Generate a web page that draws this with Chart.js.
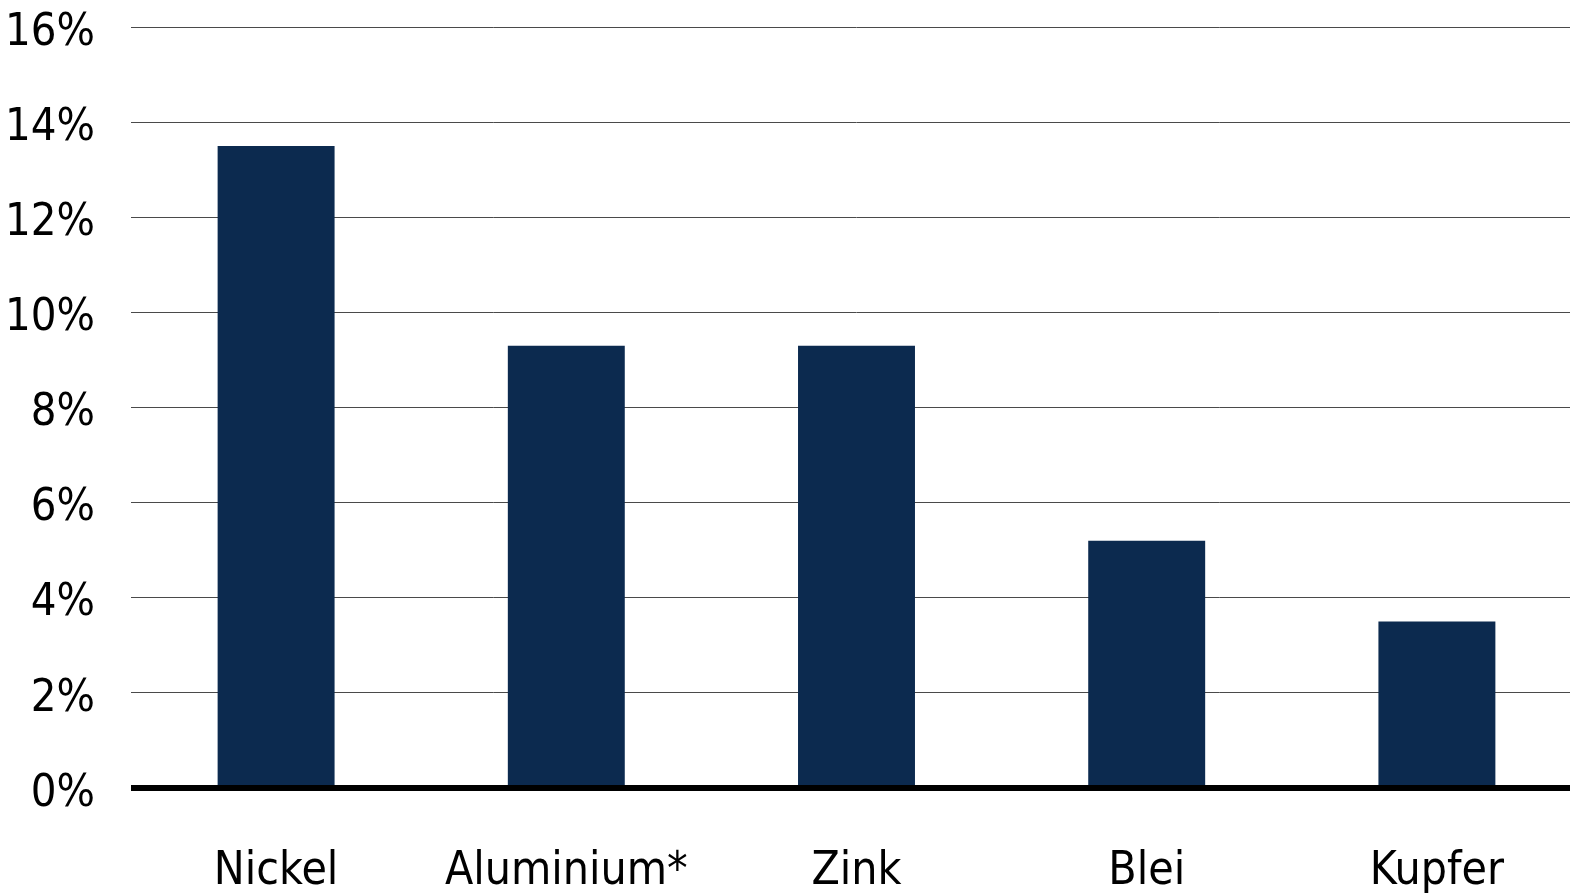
<!DOCTYPE html>
<html>
<head>
<meta charset="utf-8">
<script src="https://cdn.jsdelivr.net/npm/chart.js@4"></script>
<style>
  html, body { margin: 0; padding: 0; background: #fff; overflow: hidden; }
  #wrap { width: 1570px; height: 893px; overflow: hidden; }
</style>
</head>
<body>
<div id="wrap"><canvas id="metalChart" width="1582" height="893"></canvas></div>
<script>
const categories = ['Nickel', 'Aluminium*', 'Zink', 'Blei', 'Kupfer'];
const values = [13.5, 9.3, 9.3, 5.2, 3.5];
const yTicks = [0, 2, 4, 6, 8, 10, 12, 14, 16];

const FONT = "'DejaVu Sans Condensed', 'Liberation Sans Narrow', 'Noto Sans', sans-serif";

const ctx = document.getElementById('metalChart').getContext('2d');
new Chart(ctx, {
  type: 'bar',
  data: {
    labels: categories,
    datasets: [{
      data: values,
      backgroundColor: '#0c2a4f',
      categoryPercentage: 1,
      barPercentage: 0.403
    }]
  },
  options: {
    responsive: false,
    animation: false,
    layout: { padding: { top: 27, right: 0, bottom: 0, left: 0 } },
    plugins: { legend: { display: false }, tooltip: { enabled: false } },
    scales: {
      x: {
        grid: { display: false },
        border: { display: false },
        ticks: { color: '#000', font: { family: FONT, size: 46 }, padding: 48 },
        afterFit: s => { s.height = 105; s.paddingLeft = 0; s.paddingRight = 0; }
      },
      y: {
        min: 0,
        max: 16,
        afterBuildTicks: s => { s.ticks = yTicks.map(v => ({ value: v })); },
        ticks: {
          color: '#000',
          font: { family: FONT, size: 45, lineHeight: 1 },
          padding: 36,
          labelOffset: 6,
          callback: v => v + '%'
        },
        grid: {
          drawTicks: false,
          color: c => c.tick && c.tick.value === 0 ? '#000' : '#4a4a4a',
          lineWidth: c => c.tick && c.tick.value === 0 ? 6 : 1
        },
        border: { display: false },
        afterFit: s => { s.width = 131; s.paddingTop = 0; s.paddingBottom = 0; }
      }
    }
  }
});
</script>
</body>
</html>
